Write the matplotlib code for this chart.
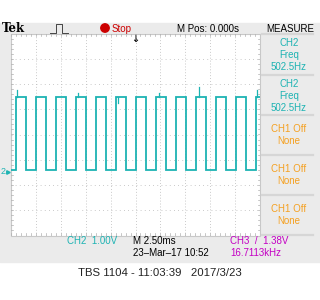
import matplotlib
matplotlib.use("Agg")
import matplotlib.pyplot as plt
from matplotlib.patches import Rectangle, Circle
import numpy as np

rise_ms = [-12.03, -10.03, -8.02, -6.00, -4.00, -2.00, 0.03, 2.03, 4.03, 6.05, 8.05, 10.05, 12.08]
fall_ms = [-11.03, -9.02, -7.02, -5.00, -3.00, -1.00, 1.03, 3.03, 5.03, 7.05, 9.05, 11.05]
high_v = 2.97
low_v = 0.07
glitch_ms = [-11.9, -1.75, 6.37, 12.2, -5.8, 2.4]
glitch_v = [3.22, 2.70, 3.37, 3.25, 3.12, 3.1]
ch2_ground_div = -1.47
volts_per_div = 1.0

measure_labels = [("CH2", "Freq", "502.5Hz"), ("CH2", "Freq", "502.5Hz"),
                  ("CH1 Off", "None", ""), ("CH1 Off", "None", ""), ("CH1 Off", "None", "")]

TEAL = "#1db3b3"
ORANGE = "#f5a020"
MAG = "#c400c4"
RED = "#cc0000"
BG = "#ebebeb"
FONT = ["Liberation Sans Narrow", "Liberation Sans", "DejaVu Sans"]
FS = 7.0

fig = plt.figure(figsize=(3.2, 3.0), dpi=100)
fig.patch.set_facecolor("white")

# overlay axes in pixel coords
ov = fig.add_axes([0, 0, 1, 1])
ov.set_xlim(0, 320)
ov.set_ylim(300, 0)
ov.axis("off")
ov.add_patch(Rectangle((0, 23), 320, 239, color=BG, zorder=0))
ov.add_patch(Rectangle((11, 33.5), 249, 202, facecolor="white", edgecolor="#c8c8c8", lw=0.8, zorder=1))

# header
ov.text(2, 28.5, "Tek", fontsize=8.5, fontweight="bold", family="DejaVu Serif", va="center", ha="left")
px = [50, 54, 56, 56, 62, 62, 64, 68]
py = [33, 33, 33, 24, 24, 33, 33, 33]
ov.plot(px, py, color="#444444", lw=0.7)
ov.add_patch(Circle((105, 28), 4.2, color=RED, zorder=3))
ov.text(112, 28.5, "Stop", fontsize=FS, color=RED, family=FONT, va="center", ha="left")
ov.text(208, 28.5, "M Pos: 0.000s", fontsize=FS, color="black", family=FONT, va="center", ha="center")
ov.text(290, 28.5, "MEASURE", fontsize=FS, color="black", family=FONT, va="center", ha="center")
ov.text(135, 39, "\u2193", fontsize=7, fontweight="bold", color="black", va="center", ha="center", zorder=5)

# measure panel
seps = [34, 75, 115, 155, 195, 235]
for s in seps:
    ov.plot([262, 313], [s, s], color="#d6d6d6", lw=1.6, zorder=2)
for i, (a, b, c) in enumerate(measure_labels):
    y0 = seps[i]
    col = TEAL if a.startswith("CH2") else ORANGE
    if c:
        ys = [y0 + 9, y0 + 21, y0 + 33]
        for t, yy in zip((a, b, c), ys):
            ov.text(289, yy, t, fontsize=FS, color=col, family=FONT, va="center", ha="center")
    else:
        for t, yy in zip((a, b), (y0 + 14, y0 + 26)):
            ov.text(289, yy, t, fontsize=FS, color=col, family=FONT, va="center", ha="center")

# ground marker
ov.text(1, 171.7, "2", fontsize=6.5, color=TEAL, family=FONT, va="center", ha="left")
ov.plot([8], [171.7], marker=">", color=TEAL, ms=2.5)

# bottom status
ov.text(67, 240.5, "CH2  1.00V", fontsize=FS, color=TEAL, family=FONT, va="center", ha="left")
ov.text(133, 240.5, "M 2.50ms", fontsize=FS, color="black", family=FONT, va="center", ha="left")
ov.text(133, 252.5, "23\u2013Mar\u201317 10:52", fontsize=FS, color="black", family=FONT, va="center", ha="left")
ov.text(230, 240.5, "CH3  /  1.38V", fontsize=FS, color=MAG, family=FONT, va="center", ha="left")
ov.text(230, 252.5, "16.7113kHz", fontsize=FS, color=MAG, family=FONT, va="center", ha="left")
ov.text(160, 273.5, "TBS 1104 - 11:03:39   2017/3/23", fontsize=8.2, color="#222222",
        family=["Liberation Sans", "DejaVu Sans"], va="center", ha="center")

# scope axes
ax = fig.add_axes([11 / 320, 1 - 235.5 / 300, 249 / 320, 202 / 300])
ax.set_xlim(-12.5, 12.5)
ax.set_ylim(-4, 4)
ax.patch.set_alpha(0)
for sp in ax.spines.values():
    sp.set_visible(False)
ax.set_xticks([])
ax.set_yticks([])
for k in range(1, 10):
    x = -12.5 + 2.5 * k
    ax.plot([x, x], [-4, 4], color="#b8b8b8", lw=0.6, ls=(0, (1, 2.5)), zorder=1)
for k in range(1, 8):
    y = -4 + k
    ax.plot([-12.5, 12.5], [y, y], color="#b8b8b8", lw=0.6, ls=(0, (1, 4)), zorder=1)
# minor ticks on border
for xx in np.arange(-12.5, 12.51, 0.5):
    ax.plot([xx, xx], [3.92, 4], color="#b0b0b0", lw=0.5, zorder=1)
    ax.plot([xx, xx], [-4, -3.92], color="#b0b0b0", lw=0.5, zorder=1)
for yy in np.arange(-4, 4.01, 0.2):
    ax.plot([-12.5, -12.3], [yy, yy], color="#b0b0b0", lw=0.5, zorder=1)
    ax.plot([12.3, 12.5], [yy, yy], color="#b0b0b0", lw=0.5, zorder=1)

# build trace from edges
hi = ch2_ground_div + high_v / volts_per_div
lo = ch2_ground_div + low_v / volts_per_div
edges = sorted([(t, hi) for t in rise_ms] + [(t, lo) for t in fall_ms])
tx = [-12.5]
ty = [lo]
cur = lo
for t, lvl in edges:
    tx += [t, t]
    ty += [cur, lvl]
    cur = lvl
tx.append(12.5)
ty.append(cur)
ax.plot(tx, ty, color=TEAL, lw=1.3, zorder=3, solid_joinstyle="miter")
for gt, gv in zip(glitch_ms, glitch_v):
    g = ch2_ground_div + gv / volts_per_div
    ax.plot([gt, gt], [hi, g], color=TEAL, lw=0.9, zorder=3)

fig.savefig("out.png", dpi=100)
